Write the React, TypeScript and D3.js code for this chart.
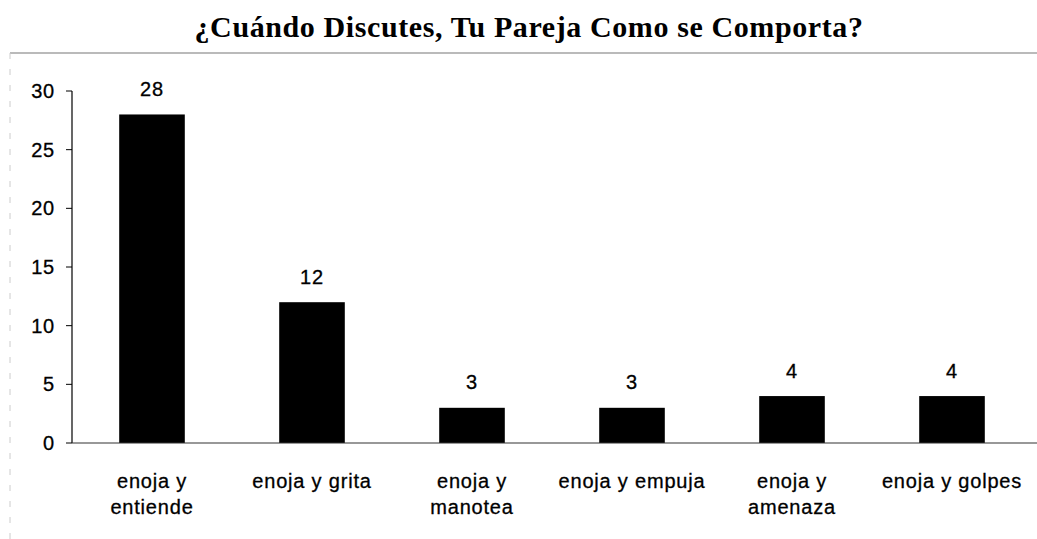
import React from "react";
import * as d3 from "d3";

const categories: string[][] = [
  ["enoja y", "entiende"],
  ["enoja y grita"],
  ["enoja y", "manotea"],
  ["enoja y empuja"],
  ["enoja y", "amenaza"],
  ["enoja y golpes"],
];
const values: number[] = [28, 12, 3, 3, 4, 4];
const yTicks: number[] = [0, 5, 10, 15, 20, 25, 30];
const title = "¿Cuándo Discutes, Tu Pareja Como se Comporta?";

const W = 1037;
const H = 539;
const left = 72;
const right = 1032;
const top = 91;
const bottom = 443;

export default function App() {
  const keys = categories.map((_, i) => String(i));
  const x = d3.scaleBand<string>().domain(keys).range([left, right]).paddingInner(0.59).paddingOuter(0.295);
  const y = d3.scaleLinear().domain([0, 30]).range([bottom, top]);
  const font = "'Liberation Sans', Arial, sans-serif";
  const ls = 0.8;
  return (
    <svg width={W} height={H} style={{ position: "absolute", left: 0, top: 0, background: "#fff" }}>
      <rect x={0} y={0} width={W} height={H} fill="#fff" />
      <text x={529} y={37} textAnchor="middle" fontFamily="'Liberation Serif', 'Times New Roman', serif" fontWeight="bold" fontSize={30} letterSpacing={0.6}>
        {title}
      </text>
      <line x1={10} x2={W} y1={53} y2={53} stroke="#777" strokeWidth={1.2} />
      <line x1={10} x2={10} y1={53} y2={H} stroke="#ccc" strokeWidth={1} strokeDasharray="6,10" />
      {/* y axis */}
      <line x1={left} x2={left} y1={top} y2={bottom} stroke="#000" strokeWidth={1.2} />
      {yTicks.map((t) => (
        <g key={t}>
          <line x1={left - 6} x2={left} y1={y(t)} y2={y(t)} stroke="#000" strokeWidth={1} />
          <text x={left - 17} y={y(t)} dy="0.35em" textAnchor="end" fontFamily={font} fontSize={20} letterSpacing={ls} stroke="#000" strokeWidth={0.3}>
            {t}
          </text>
        </g>
      ))}
      {/* bars */}
      {values.map((v, i) => (
        <g key={i}>
          <rect x={x(keys[i])} y={y(v)} width={x.bandwidth()} height={y(0) - y(v)} fill="#000" />
          <text x={(x(keys[i]) as number) + x.bandwidth() / 2} y={y(v) - 18.5} textAnchor="middle" fontFamily={font} fontSize={20} letterSpacing={ls} stroke="#000" strokeWidth={0.3}>
            {v}
          </text>
          <text x={(x(keys[i]) as number) + x.bandwidth() / 2} y={488} textAnchor="middle" fontFamily={font} fontSize={20} letterSpacing={ls} stroke="#000" strokeWidth={0.3}>
            {categories[i].map((line, j) => (
              <tspan key={j} x={(x(keys[i]) as number) + x.bandwidth() / 2} dy={j === 0 ? 0 : 26}>
                {line}
              </tspan>
            ))}
          </text>
        </g>
      ))}
      <line x1={left} x2={W} y1={bottom} y2={bottom} stroke="#333" strokeWidth={1.2} />
    </svg>
  );
}
